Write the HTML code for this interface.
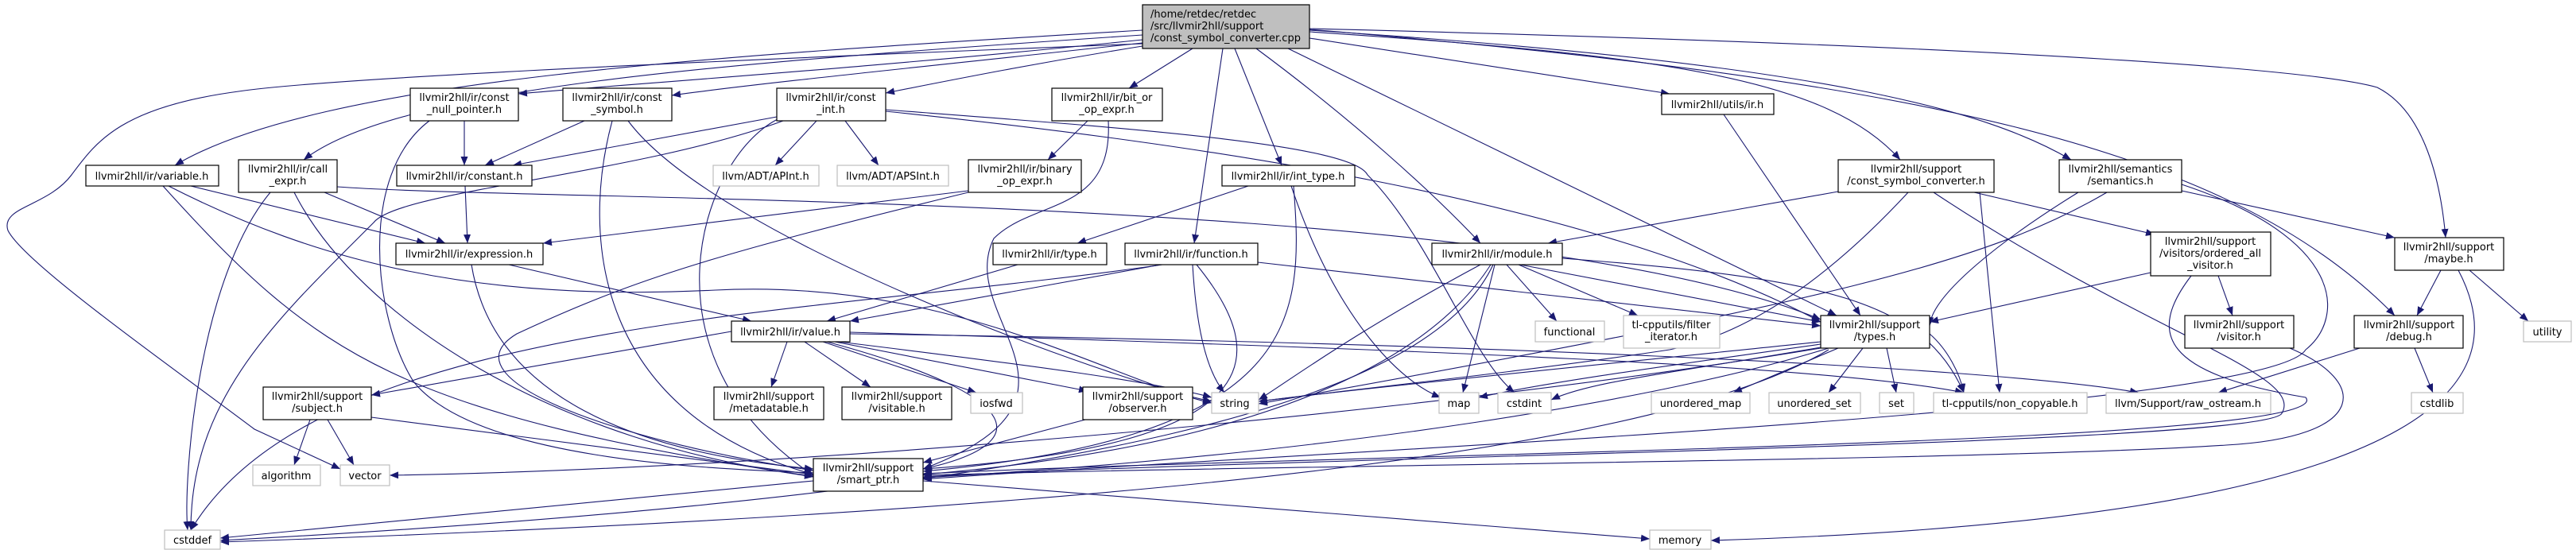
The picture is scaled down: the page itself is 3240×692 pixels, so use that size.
<!DOCTYPE html>
<html><head><meta charset="utf-8"><style>
html,body{margin:0;padding:0;background:#fff;}
svg{display:block;}
text{font-family:"DejaVu Sans","Liberation Sans",sans-serif;font-size:13px;fill:#000;}
.e{fill:none;stroke:#191970;stroke-width:1.1;}
.n{fill:#fff;stroke:#000;stroke-width:1.2;}
.g{fill:#fff;stroke:#bfbfbf;stroke-width:1.2;}
</style></head><body>
<svg width="3240" height="692" viewBox="0 0 3240 692" xmlns="http://www.w3.org/2000/svg">
<defs><marker id="a" markerUnits="userSpaceOnUse" markerWidth="12" markerHeight="9" refX="11" refY="4.5" orient="auto"><path d="M0,0 L11,4.5 L0,9 z" fill="#191970"/></marker></defs>
<g class="e" marker-end="url(#a)">
<!-- root edges -->
<path d="M1437,38 C900,70 400,100 220,208"/>
<path d="M1437,44 C900,80 500,110 382,201"/>
<path d="M1437,50 C1100,85 800,105 652,118"/>
<path d="M1437,54 C1200,80 950,105 845,120"/>
<path d="M1437,58 C1300,80 1200,100 1114,117"/>
<path d="M1500,61 L1420,111"/>
<path d="M1538,61 L1502,306"/>
<path d="M1553,61 L1612,208"/>
<path d="M1580,61 C1700,150 1800,240 1862,306"/>
<path d="M1620,61 L2310,397"/>
<path d="M1647,48 L2100,118"/>
<path d="M1647,40 C2100,70 2300,100 2390,201"/>
<path d="M1647,38 C2300,80 2500,140 2605,201"/>
<path d="M1647,37 C2400,100 2800,180 3012,397"/>
<path d="M1647,36 C2600,60 2920,90 2990,110 C3050,140 3070,230 3076,299"/>
<path d="M1437,55 C800,80 400,100 300,115 C150,135 120,180 90,220 C60,260 0,260 10,290 C30,330 200,450 320,540 L428,590"/>
<!-- level 1 -->
<path d="M584,152 L584,208"/>
<path d="M540,152 C450,220 470,400 520,480 C600,580 900,590 1023,595"/>
<path d="M735,152 L610,208"/>
<path d="M770,152 C730,300 750,520 1023,597"/>
<path d="M790,152 C900,300 1400,480 1524,505"/>
<path d="M977,147 L645,208"/>
<path d="M1027,152 L975,208"/>
<path d="M1063,152 L1105,208"/>
<path d="M978,150 C880,200 800,450 1023,598"/>
<path d="M985,152 C800,220 500,240 470,280 C350,400 240,500 240,667"/>
<path d="M1114,138 C1400,160 1700,180 1720,220 C1800,300 1850,450 1905,494"/>
<path d="M1114,140 C1500,180 2000,250 2290,405"/>
<path d="M1368,152 L1318,201"/>
<path d="M1394,152 C1400,270 1300,250 1250,300 C1200,400 1400,500 1161,590"/>
<path d="M408,242 L560,306"/>
<path d="M370,242 C450,400 700,560 1023,599"/>
<path d="M340,242 C250,350 230,600 236,667"/>
<path d="M424,235 C700,255 1900,240 2290,402"/>
<path d="M240,234 L535,306"/>
<path d="M205,234 C400,450 500,520 1023,600"/>
<path d="M212,234 C400,330 600,380 900,365 C1200,350 1400,480 1524,507"/>
<path d="M585,234 L588,306"/>
<path d="M1218,240 L683,306"/>
<path d="M1218,242 C900,320 800,350 650,420 C550,480 800,560 1023,592"/>
<path d="M640,333 L945,404"/>
<path d="M593,333 C620,500 800,570 1023,590"/>
<path d="M1280,333 L1040,404"/>
<path d="M1460,333 L1069,404"/>
<path d="M1500,333 C1505,420 1520,470 1540,494"/>
<path d="M1505,333 C1600,450 1600,560 1161,590"/>
<path d="M1582,330 L2290,410"/>
<path d="M1462,333 C1000,400 400,400 240,667"/>
<path d="M1570,234 L1355,306"/>
<path d="M1624,234 C1680,400 1760,480 1812,500"/>
<path d="M1627,234 C1640,400 1640,550 1161,593"/>
<path d="M2168,144 L2340,397"/>
<path d="M2312,241 L1947,306"/>
<path d="M2483,242 L2710,295"/>
<path d="M2490,242 L2515,494"/>
<path d="M2400,242 C2300,350 2200,420 2100,440 C1900,470 1700,490 1583,505"/>
<path d="M2432,242 C2700,420 2900,470 2870,520 C2850,560 1600,575 1161,600"/>
<path d="M2614,242 C2520,300 2430,370 2427,410"/>
<path d="M2650,242 C2500,330 2300,380 1583,508"/>
<path d="M2744,240 L3012,299"/>
<path d="M2744,232 C2950,300 2950,400 2900,440 C2850,520 1600,570 1161,603"/>
<path d="M1895,333 L1958,404"/>
<path d="M1910,333 L2060,397"/>
<path d="M1912,333 L2290,405"/>
<path d="M1880,333 L1840,494"/>
<path d="M1862,333 C1700,420 1620,480 1583,503"/>
<path d="M1875,333 C1800,450 1600,560 1161,597"/>
<path d="M1878,333 C1800,500 1400,620 277,680"/>
<path d="M1965,325 C2300,350 2420,380 2470,494"/>
<path d="M2705,343 L2427,405"/>
<path d="M2790,347 L2808,397"/>
<path d="M2756,347 C2700,420 2720,470 2900,500 C2950,560 1700,570 1161,596"/>
<path d="M3070,340 L3040,397"/>
<path d="M3106,340 L3180,404"/>
<path d="M3092,340 C3150,450 3150,650 2152,680"/>
<path d="M2968,438 L2790,494"/>
<path d="M3037,438 L3060,494"/>
<path d="M2880,438 C2980,480 2980,550 2800,560 C2500,580 1600,585 1161,598"/>
<path d="M2290,430 C2000,460 1700,490 1583,505"/>
<path d="M2312,438 L2180,494"/>
<path d="M2343,438 L2300,494"/>
<path d="M2373,438 L2385,494"/>
<path d="M2290,433 C2100,460 1950,480 1860,500"/>
<path d="M2290,437 C2100,470 2000,480 1951,503"/>
<path d="M2300,438 C2100,500 1700,570 1161,601"/>
<path d="M2290,438 C1800,520 1000,590 490,598"/>
<path d="M2300,440 C2100,560 1500,640 277,682"/>
<path d="M2427,420 C2450,440 2465,470 2470,494"/>
<path d="M920,417 L467,497"/>
<path d="M990,430 L970,487"/>
<path d="M1012,430 L1095,487"/>
<path d="M1035,430 L1228,494"/>
<path d="M1050,430 L1368,492"/>
<path d="M1055,430 C1300,460 1450,480 1524,500"/>
<path d="M1040,430 C1300,500 1300,560 1161,590"/>
<path d="M1069,418 C1800,440 2300,460 2470,494"/>
<path d="M1069,420 C1800,430 2500,460 2690,494"/>
<path d="M390,528 L370,585"/>
<path d="M412,528 L445,585"/>
<path d="M467,525 L1023,597"/>
<path d="M1365,528 L1161,582"/>
<path d="M1023,605 L277,677"/>
<path d="M1161,605 L2075,678"/>
</g>
<!-- nodes -->
<rect x="1437" y="6" width="210" height="55" fill="#bfbfbf" stroke="#000" stroke-width="1.2"/>
<text x="1447" y="22">/home/retdec/retdec</text><text x="1447" y="37">/src/llvmir2hll/support</text><text x="1447" y="52">/const_symbol_converter.cpp</text>
<g text-anchor="middle">
<rect class="n" x="516" y="111" width="136" height="41"/><text x="584" y="127">llvmir2hll/ir/const</text><text x="584" y="142">_null_pointer.h</text>
<rect class="n" x="708" y="111" width="137" height="41"/><text x="776" y="127">llvmir2hll/ir/const</text><text x="776" y="142">_symbol.h</text>
<rect class="n" x="977" y="111" width="137" height="41"/><text x="1045" y="127">llvmir2hll/ir/const</text><text x="1045" y="142">_int.h</text>
<rect class="n" x="1323" y="111" width="139" height="41"/><text x="1392" y="127">llvmir2hll/ir/bit_or</text><text x="1392" y="142">_op_expr.h</text>
<rect class="n" x="2090" y="118" width="141" height="26"/><text x="2160" y="136">llvmir2hll/utils/ir.h</text>
<rect class="n" x="108" y="208" width="167" height="26"/><text x="191" y="226">llvmir2hll/ir/variable.h</text>
<rect class="n" x="300" y="201" width="124" height="41"/><text x="362" y="217">llvmir2hll/ir/call</text><text x="362" y="232">_expr.h</text>
<rect class="n" x="499" y="208" width="170" height="26"/><text x="584" y="226">llvmir2hll/ir/constant.h</text>
<rect class="g" x="897" y="208" width="133" height="26"/><text x="963" y="226">llvm/ADT/APInt.h</text>
<rect class="g" x="1053" y="208" width="140" height="26"/><text x="1123" y="226">llvm/ADT/APSInt.h</text>
<rect class="n" x="1218" y="201" width="142" height="41"/><text x="1289" y="217">llvmir2hll/ir/binary</text><text x="1289" y="232">_op_expr.h</text>
<rect class="n" x="1537" y="208" width="167" height="26"/><text x="1620" y="226">llvmir2hll/ir/int_type.h</text>
<rect class="n" x="2312" y="201" width="196" height="41"/><text x="2410" y="217">llvmir2hll/support</text><text x="2410" y="232">/const_symbol_converter.h</text>
<rect class="n" x="2590" y="201" width="154" height="41"/><text x="2667" y="217">llvmir2hll/semantics</text><text x="2667" y="232">/semantics.h</text>
<rect class="n" x="498" y="306" width="185" height="27"/><text x="590" y="324">llvmir2hll/ir/expression.h</text>
<rect class="n" x="1249" y="306" width="143" height="27"/><text x="1320" y="324">llvmir2hll/ir/type.h</text>
<rect class="n" x="1415" y="306" width="167" height="27"/><text x="1498" y="324">llvmir2hll/ir/function.h</text>
<rect class="n" x="1801" y="306" width="164" height="27"/><text x="1883" y="324">llvmir2hll/ir/module.h</text>
<rect class="n" x="2705" y="292" width="151" height="55"/><text x="2780" y="308">llvmir2hll/support</text><text x="2780" y="323">/visitors/ordered_all</text><text x="2780" y="338">_visitor.h</text>
<rect class="n" x="3012" y="299" width="137" height="41"/><text x="3080" y="315">llvmir2hll/support</text><text x="3080" y="330">/maybe.h</text>
<rect class="n" x="920" y="404" width="149" height="26"/><text x="994" y="422">llvmir2hll/ir/value.h</text>
<rect class="g" x="1931" y="404" width="87" height="26"/><text x="1974" y="422">functional</text>
<rect class="g" x="2042" y="397" width="121" height="41"/><text x="2102" y="413">tl-cpputils/filter</text><text x="2102" y="428">_iterator.h</text>
<rect class="n" x="2290" y="397" width="137" height="41"/><text x="2358" y="413">llvmir2hll/support</text><text x="2358" y="428">/types.h</text>
<rect class="n" x="2748" y="397" width="137" height="41"/><text x="2816" y="413">llvmir2hll/support</text><text x="2816" y="428">/visitor.h</text>
<rect class="n" x="2961" y="397" width="137" height="41"/><text x="3030" y="413">llvmir2hll/support</text><text x="3030" y="428">/debug.h</text>
<rect class="g" x="3174" y="404" width="60" height="26"/><text x="3204" y="422">utility</text>
<rect class="n" x="331" y="487" width="136" height="41"/><text x="399" y="503">llvmir2hll/support</text><text x="399" y="518">/subject.h</text>
<rect class="n" x="898" y="487" width="138" height="41"/><text x="967" y="503">llvmir2hll/support</text><text x="967" y="518">/metadatable.h</text>
<rect class="n" x="1059" y="487" width="138" height="41"/><text x="1128" y="503">llvmir2hll/support</text><text x="1128" y="518">/visitable.h</text>
<rect class="g" x="1221" y="494" width="65" height="26"/><text x="1253" y="512">iosfwd</text>
<rect class="n" x="1362" y="487" width="138" height="41"/><text x="1431" y="503">llvmir2hll/support</text><text x="1431" y="518">/observer.h</text>
<rect class="g" x="1524" y="494" width="59" height="26"/><text x="1553" y="512">string</text>
<rect class="g" x="1810" y="494" width="50" height="26"/><text x="1835" y="512">map</text>
<rect class="g" x="1884" y="494" width="67" height="26"/><text x="1917" y="512">cstdint</text>
<rect class="g" x="2077" y="494" width="124" height="26"/><text x="2139" y="512">unordered_map</text>
<rect class="g" x="2225" y="494" width="115" height="26"/><text x="2282" y="512">unordered_set</text>
<rect class="g" x="2364" y="494" width="43" height="26"/><text x="2385" y="512">set</text>
<rect class="g" x="2432" y="494" width="193" height="26"/><text x="2528" y="512">tl-cpputils/non_copyable.h</text>
<rect class="g" x="2649" y="494" width="207" height="26"/><text x="2752" y="512">llvm/Support/raw_ostream.h</text>
<rect class="g" x="3033" y="494" width="65" height="26"/><text x="3065" y="512">cstdlib</text>
<rect class="g" x="318" y="585" width="85" height="26"/><text x="360" y="603">algorithm</text>
<rect class="g" x="428" y="585" width="62" height="26"/><text x="459" y="603">vector</text>
<rect class="n" x="1023" y="577" width="138" height="41"/><text x="1092" y="593">llvmir2hll/support</text><text x="1092" y="608">/smart_ptr.h</text>
<rect class="g" x="207" y="667" width="70" height="24"/><text x="242" y="684">cstddef</text>
<rect class="g" x="2075" y="667" width="77" height="24"/><text x="2113" y="684">memory</text>
</g>
</svg>
</body></html>
